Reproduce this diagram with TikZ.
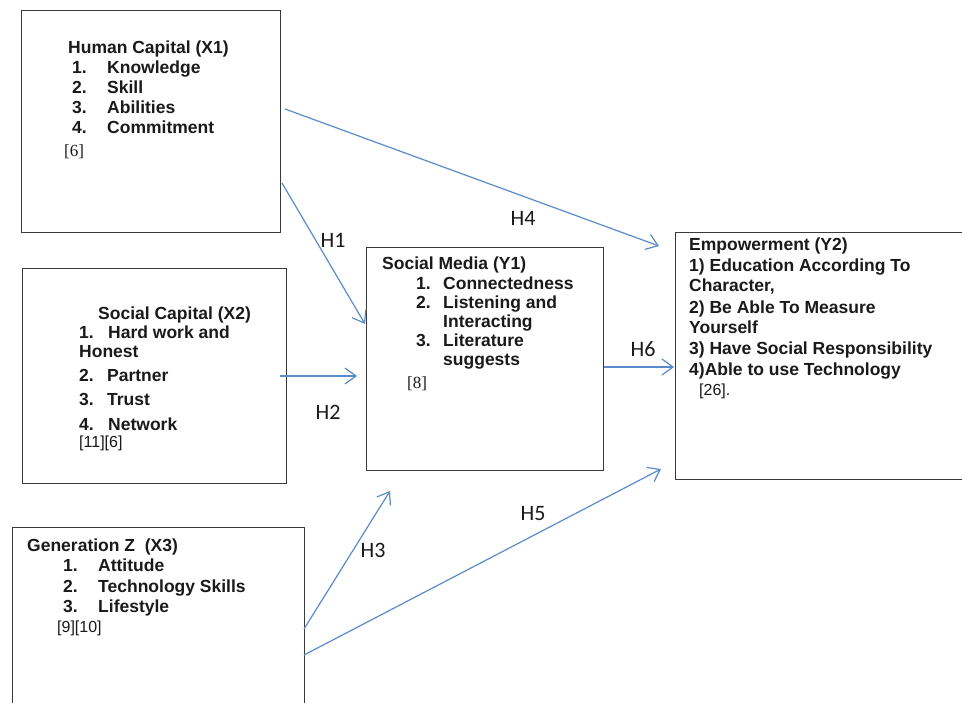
\documentclass[tikz,border=0pt]{standalone}
\usepackage{fontspec}
\setmainfont{Liberation Sans}
\newfontfamily\serifref{Liberation Serif}
\newfontfamily\calib{Carlito}
\usetikzlibrary{arrows.meta}
\definecolor{arrowblue}{HTML}{5B8BC9}
\definecolor{boxgray}{HTML}{3A3A3A}
\definecolor{textgray}{HTML}{1A1A1A}
\tikzset{
  box/.style={draw=boxgray, line width=1.3pt, inner sep=0pt, anchor=north west},
  txt/.style={anchor=base west, inner sep=0pt, text=textgray, font=\fontsize{17.5}{20}\selectfont\bfseries},
  reftxt/.style={anchor=base west, inner sep=0pt, text=textgray, font=\fontsize{16}{20}\selectfont},
  serref/.style={anchor=base west, inner sep=0pt, text=textgray, font=\serifref\fontsize{17}{20}\selectfont},
  hlab/.style={inner sep=0pt, text=textgray, font=\calib\fontsize{22}{24}\selectfont},
  conn/.style={draw=arrowblue, line width=1.2pt, -{Straight Barb[length=11pt,width=16pt,line width=1.2pt]}}
}
\newcommand{\Ln}[5][txt]{\node[#1] (#2) at (#3,#4) {#5};}
\begin{document}
\begin{tikzpicture}[x=1pt,y=-1pt]
\clip (0,0) rectangle (962,703);
\fill[white] (0,0) rectangle (962,703);
% boxes
\node[box, minimum width=259pt, minimum height=222pt] (X1) at (21,10) {};
\node[box, minimum width=264pt, minimum height=215pt] (X2) at (22,268) {};
\node[box, minimum width=292pt, minimum height=200pt] (X3) at (12,527) {};
\node[box, minimum width=237pt, minimum height=223pt] (Y1) at (366,247) {};
\node[box, minimum width=300pt, minimum height=247pt] (Y2) at (675,232) {};
% X1 text
\Ln{x1t}{68}{54}{Human Capital (X1)}
\Ln{x1n1}{72}{74}{1.}\Ln{x1i1}{107}{74}{Knowledge}
\Ln{x1n2}{72}{94}{2.}\Ln{x1i2}{107}{94}{Skill}
\Ln{x1n3}{72}{114}{3.}\Ln{x1i3}{107}{114}{Abilities}
\Ln{x1n4}{72}{134}{4.}\Ln{x1i4}{107}{134}{Commitment}
\Ln[serref]{x1r}{64}{157}{[6]}
% X2 text
\Ln{x2t}{98}{320}{Social Capital (X2)}
\Ln{x2n1}{79}{339}{1.}\Ln{x2i1}{108}{339}{Hard work and}
\Ln{x2i1b}{79}{358}{Honest}
\Ln{x2n2}{79}{382}{2.}\Ln{x2i2}{107}{382}{Partner}
\Ln{x2n3}{79}{406}{3.}\Ln{x2i3}{107}{406}{Trust}
\Ln{x2n4}{79}{431}{4.}\Ln{x2i4}{108}{431}{Network}
\Ln[reftxt]{x2r}{79}{447}{[11][6]}
% X3 text
\Ln{x3t}{27}{551}{Generation Z~~(X3)}
\Ln{x3n1}{63}{571}{1.}\Ln{x3i1}{98}{571}{Attitude}
\Ln{x3n2}{63}{592}{2.}\Ln{x3i2}{98}{592}{Technology Skills}
\Ln{x3n3}{63}{612}{3.}\Ln{x3i3}{98}{612}{Lifestyle}
\Ln[reftxt]{x3r}{57}{632}{[9][10]}
% Y1 text
\Ln{y1t}{382}{270}{Social Media (Y1)}
\Ln{y1n1}{416}{290}{1.}\Ln{y1i1}{443}{290}{Connectedness}
\Ln{y1n2}{416}{309}{2.}\Ln{y1i2}{443}{309}{Listening and}
\Ln{y1i2b}{443}{328}{Interacting}
\Ln{y1n3}{416}{347}{3.}\Ln{y1i3}{443}{347}{Literature}
\Ln{y1i3b}{443}{366}{suggests}
\Ln[serref]{y1r}{407}{389}{[8]}
% Y2 text
\Ln{y2t}{689}{251}{Empowerment (Y2)}
\Ln{y2l1}{689}{272}{1) Education According To}
\Ln{y2l2}{689}{292}{Character,}
\Ln{y2l3}{689}{314}{2) Be Able To Measure}
\Ln{y2l4}{689}{334}{Yourself}
\Ln{y2l5}{689}{355}{3) Have Social Responsibility}
\Ln{y2l6}{689}{376}{4)Able to use Technology}
\Ln[reftxt]{y2r}{699}{396}{[26].}
% connector end points
\coordinate (h4s) at (285,109);
\coordinate (h4e) at (659,246);
\coordinate (h1s) at (282,183);
\coordinate (h1e) at (365,324);
\coordinate (h2s) at (280,376);
\coordinate (h2e) at (357,376);
\coordinate (h6s) at (604,367);
\coordinate (h6e) at (674,367);
\coordinate (h3s) at (304,629);
\coordinate (h3e) at (390,491);
\coordinate (h5s) at (304,655);
\coordinate (h5e) at (661,469);
% connectors
\draw[conn] (h4s) -- (h4e);
\draw[conn] (h1s) -- (h1e);
\draw[conn] (h2s) -- (h2e);
\draw[conn] (h6s) -- (h6e);
\draw[conn] (h3s) -- (h3e);
\draw[conn] (h5s) -- (h5e);
% labels
\node[hlab] (H1) at (333,240) {H1};
\node[hlab] (H4) at (523,218) {H4};
\node[hlab] (H2) at (328,412) {H2};
\node[hlab] (H6) at (643,349) {H6};
\node[hlab] (H3) at (373,550) {H3};
\node[hlab] (H5) at (533,514) {H5};
\end{tikzpicture}
\end{document}
